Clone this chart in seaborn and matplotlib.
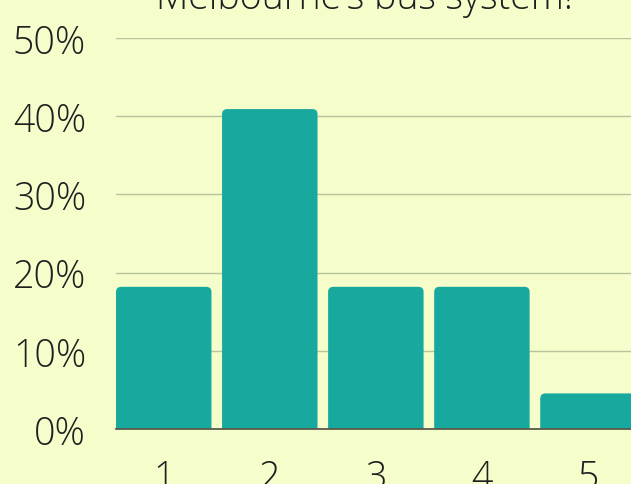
import matplotlib
matplotlib.use("Agg")
import matplotlib.pyplot as plt
import seaborn as sns
import pandas as pd
from matplotlib.patches import FancyBboxPatch
from matplotlib.ticker import FuncFormatter

categories = ["1", "2", "3", "4", "5"]
shares = [18.18, 40.91, 18.18, 18.18, 4.55]
y_ticks = [0, 10, 20, 30, 40, 50]
title = "Melbourne's bus system!"

BG = "#f5fdcb"
BAR = "#17a89e"
TXT = "#1f1f1f"

sns.set_theme(style="white")
plt.rcParams["font.family"] = ["Open Sans", "DejaVu Sans"]

fig = plt.figure(figsize=(6.31, 4.85), dpi=100)
fig.patch.set_facecolor(BG)
W, H = 631, 485
left, right, top, bottom = 116, 641, 39, 430
ax = fig.add_axes([left / W, 1 - bottom / H, (right - left) / W, (bottom - top) / H])
ax.set_facecolor(BG)

df = pd.DataFrame({"cat": categories, "val": shares})
sns.barplot(data=df, x="cat", y="val", color=BAR, width=0.9, saturation=1, ax=ax, zorder=3)

# rounded tops
for p in list(ax.patches):
    x0, y0, w, h = p.get_x(), p.get_y(), p.get_width(), p.get_height()
    rx = 0.05
    ry = 0.65
    fb = FancyBboxPatch((x0 + rx, y0 - ry * 2), w - 2 * rx, h + ry * 2 - ry,
                        boxstyle=f"round,pad={rx},rounding_size={rx}",
                        mutation_aspect=ry / rx, facecolor=BAR, edgecolor="none",
                        zorder=3, clip_on=True)
    p.remove()
    ax.add_patch(fb)

ax.set_xlim(-0.45, 4.5)
ax.set_ylim(0, 50)
ax.set_yticks(y_ticks)
ax.yaxis.set_major_formatter(FuncFormatter(lambda v, _: f"{int(v)}%"))
ax.grid(axis="y", color="#b7c39b", linewidth=1.0, zorder=0)
ax.grid(axis="x", visible=False)
for s in ["left", "right", "top"]:
    ax.spines[s].set_visible(False)
ax.spines["bottom"].set_color("#5a5a4a")
ax.spines["bottom"].set_linewidth(1.3)
ax.spines["bottom"].set_zorder(4)
ax.tick_params(axis="both", length=0, labelsize=27, labelcolor=TXT)
ax.tick_params(axis="y", pad=21.5)
ax.tick_params(axis="x", pad=21)
for lab in ax.get_xticklabels() + ax.get_yticklabels():
    lab.set_fontweight("light")
ax.set_xlabel("")
ax.set_ylabel("")

fig.text(364 / W, 1 - 9 / H, title, ha="center", va="baseline", fontsize=27,
         color=TXT, fontweight="light")

fig.savefig("out.png", dpi=100, facecolor=BG)
